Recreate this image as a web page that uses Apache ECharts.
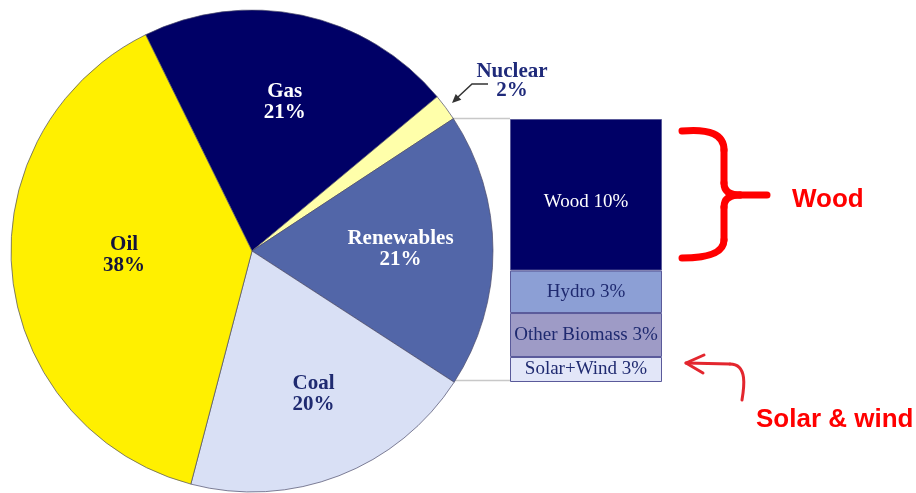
<!DOCTYPE html>
<html>
<head>
<meta charset="utf-8">
<script src="https://cdn.jsdelivr.net/npm/echarts@6/dist/echarts.min.js"></script>
<style>
html,body{margin:0;padding:0;background:#fff;}
#main{width:916px;height:493px;}
</style>
</head>
<body>
<div id="main"></div>
<script>
// ---- data ----
const pieNames = ['Gas', 'Nuclear', 'Renewables', 'Coal', 'Oil'];
const pieValues = [21.2, 1.8, 18.4, 19.9, 38.6];       // slice shares
const pieLabels = ['21%', '2%', '21%', '20%', '38%'];  // printed labels
const barNames = ['Wood', 'Hydro', 'Other Biomass', 'Solar+Wind'];
const barValues = [10, 2.8, 2.9, 1.65];                // segment heights
const barLabels = ['10%', '3%', '3%', '3%'];
const noteWood = 'Wood';
const noteSolar = 'Solar & wind';

// ---- styles ----
const pieColors = ['#000066', '#FFFFAA', '#5266A8', '#D9E0F5', '#FFF000'];
const pieTextColors = ['#ffffff', '#1F2A7A', '#ffffff', '#1F2A70', '#14143C'];
const pieOffsets = [[7, -28], [0, 0], [25, -2], [17, 28], [-5, -8]];
const barColors = ['#000066', '#8C9FD5', '#9E9BC6', '#E2E6F8'];
const barTextColors = ['#ffffff', '#1F2A70', '#1F2A70', '#1F2A70'];
const barOffsets = [[0, 7], [0, 0], [0, 0], [0, 0]];

const chart = echarts.init(document.getElementById('main'), null, {renderer: 'canvas'});

const pieData = pieNames.map((n, i) => ({
  name: n,
  value: pieValues[i],
  itemStyle: {color: pieColors[i]},
  label: i === 1 ? {show: false} : {
    show: true,
    position: 'inside',
    formatter: n + '\n' + pieLabels[i],
    color: pieTextColors[i],
    offset: pieOffsets[i]
  }
}));

const barSeries = barNames.map((n, i) => ({
  type: 'bar',
  name: n,
  stack: 'ren',
  barWidth: '100%',
  data: [barValues[i]],
  itemStyle: {color: barColors[i], borderColor: '#5a5a9a', borderWidth: 1},
  label: {
    show: true,
    position: 'inside',
    formatter: n + ' ' + barLabels[i],
    color: barTextColors[i],
    fontFamily: 'Liberation Serif',
    fontSize: 19,
    offset: barOffsets[i]
  },
  silent: true
}));

const red = '#FF0000';
const redStroke = {stroke: red, lineWidth: 7, fill: null, lineCap: 'round'};
const arrowStroke = {stroke: '#E3262E', lineWidth: 3, fill: null, lineCap: 'round', lineJoin: 'round'};

chart.setOption({
  backgroundColor: '#ffffff',
  animation: false,
  grid: {left: 510, top: 119, width: 152, height: 263},
  xAxis: {type: 'category', data: ['Renewables'], show: false},
  yAxis: {type: 'value', min: 0, max: barValues.reduce((a, b) => a + b, 0), inverse: true, show: false},
  series: [
    {
      type: 'pie',
      center: [252, 251],
      radius: [0, 241],
      startAngle: 116.2,
      clockwise: true,
      avoidLabelOverlap: false,
      silent: true,
      itemStyle: {borderColor: '#4a4a6a', borderWidth: 0.7},
      label: {
        fontFamily: 'Liberation Serif',
        fontWeight: 'bold',
        fontSize: 21,
        lineHeight: 21
      },
      labelLine: {show: false},
      data: pieData
    },
    ...barSeries
  ],
  graphic: [
    // connector lines
    {type: 'line', shape: {x1: 452, y1: 118.5, x2: 510, y2: 118.5}, style: {stroke: '#C8C8C8', lineWidth: 1.5}},
    {type: 'line', shape: {x1: 453, y1: 380.5, x2: 510, y2: 380.5}, style: {stroke: '#C8C8C8', lineWidth: 1.5}},
    // nuclear label
    {type: 'text', x: 512, y: 62, style: {
      text: pieNames[1] + '\n' + pieLabels[1], fill: '#1F2A7A', align: 'center', verticalAlign: 'top',
      font: 'bold 21px "Liberation Serif"', lineHeight: 19
    }},
    {type: 'polyline', shape: {points: [[488, 84], [472, 84], [458, 97]]}, style: {stroke: '#333333', lineWidth: 1.5, fill: null}},
    {type: 'polygon', shape: {points: [[452, 103], [461.3, 99.7], [455.7, 93.9]]}, style: {fill: '#333333'}},
    // red bracket
    {type: 'bezierCurve', shape: {x1: 682, y1: 131, cpx1: 724, cpy1: 127, x2: 724, y2: 150}, style: redStroke},
    {type: 'line', shape: {x1: 724, y1: 150, x2: 724, y2: 183}, style: redStroke},
    {type: 'bezierCurve', shape: {x1: 724, y1: 183, cpx1: 724, cpy1: 195, x2: 740, y2: 195}, style: redStroke},
    {type: 'line', shape: {x1: 740, y1: 195, x2: 767, y2: 195}, style: redStroke},
    {type: 'bezierCurve', shape: {x1: 740, y1: 195, cpx1: 724, cpy1: 195, x2: 724, y2: 207}, style: redStroke},
    {type: 'line', shape: {x1: 724, y1: 207, x2: 724, y2: 240}, style: redStroke},
    {type: 'bezierCurve', shape: {x1: 724, y1: 240, cpx1: 724, cpy1: 258, x2: 682, y2: 258}, style: redStroke},
    {type: 'text', x: 792, y: 200, style: {text: noteWood, fill: red, font: 'bold 26px "Liberation Sans"', verticalAlign: 'middle'}},
    // red arrow
    {type: 'bezierCurve', shape: {x1: 742, y1: 400, cpx1: 744, cpy1: 388, cpx2: 748, cpy2: 364, x2: 730, y2: 364}, style: arrowStroke},
    {type: 'line', shape: {x1: 730, y1: 364, x2: 686, y2: 363}, style: arrowStroke},
    {type: 'polyline', shape: {points: [[704, 355], [686, 363], [703, 373]]}, style: arrowStroke},
    {type: 'text', x: 756, y: 420, style: {text: noteSolar, fill: red, font: 'bold 26px "Liberation Sans"', verticalAlign: 'middle'}}
  ]
});
</script>
</body>
</html>
